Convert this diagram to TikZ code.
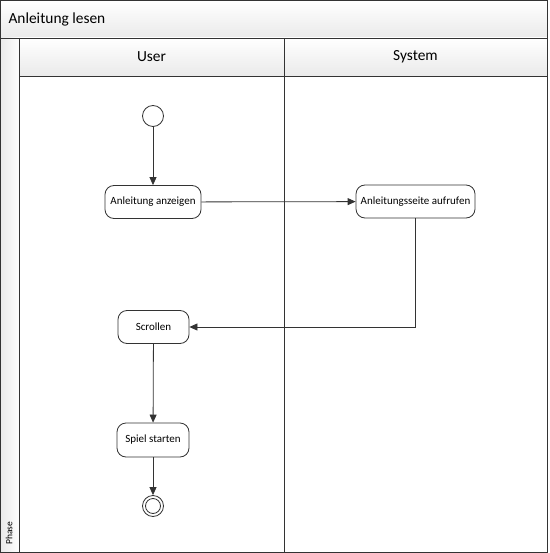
\documentclass[tikz,border=0pt]{standalone}
\usepackage{fontspec}
\setmainfont{Carlito}
\usetikzlibrary{arrows.meta,positioning}
\definecolor{ln}{HTML}{333333}
\definecolor{hdtop}{HTML}{FFFFFF}
\definecolor{hdbot}{HTML}{EAEAEA}
\tikzset{
  act/.style={draw=ln,line width=0.8pt,rounded corners=9pt,fill=white,font=\fontsize{11}{13}\selectfont,inner sep=0pt},
  flow/.style={draw=ln,line width=0.8pt,-{Triangle[length=8pt,width=7pt]}},
  frame/.style={draw=ln,line width=0.9pt},
  hdr/.style={top color=hdtop,bottom color=hdbot,draw=ln,line width=0.9pt},
}
\begin{document}
\begin{tikzpicture}[x=1pt,y=-1pt]
\useasboundingbox (0,0) rectangle (549,553);
% title band
\path[hdr] (0.5,0.5) rectangle (547.5,38);
\node[anchor=west,font=\fontsize{15.4}{18}\selectfont] (title) at (5,19) {Anleitung lesen};
% phase column
\path[left color=hdbot,right color=hdtop,draw=ln,line width=0.9pt] (0.5,38) rectangle (19.5,552);
\node[rotate=90,anchor=west,font=\fontsize{9.5}{11}\selectfont] (phase) at (9,548) {Phase};
% lane headers
\path[hdr] (19.5,38) rectangle (284,76);
\path[hdr] (284,38) rectangle (547.5,76);
\node[font=\fontsize{15.4}{18}\selectfont] (user) at (151.5,57) {User};
\node[font=\fontsize{15.4}{18}\selectfont] (system) at (415.5,57) {System};
% lane bodies
\draw[frame] (19.5,76) rectangle (284,552);
\draw[frame] (284,76) rectangle (547.5,552);
\draw[frame] (0.5,0.5) rectangle (547.5,552);
% nodes
\node[circle,draw=ln,line width=0.8pt,fill=white,minimum size=21pt,inner sep=0pt] (start) at (153,116) {};
\node[act,minimum width=96pt,minimum height=33pt] (anz) at (153,202) {Anleitung anzeigen};
\node[act,minimum width=119pt,minimum height=33pt] (auf) at (415.5,201.5) {Anleitungsseite aufrufen};
\node[act,minimum width=71pt,minimum height=33pt] (scr) at (153.5,327) {Scrollen};
\node[act,minimum width=72pt,minimum height=34pt] (spiel) at (153,440) {Spiel starten};
\node[circle,draw=ln,line width=0.8pt,fill=white,minimum size=21pt,inner sep=0pt] (end) at (153,506) {};
\node[circle,draw=ln,line width=0.8pt,minimum size=15pt,inner sep=0pt] (endin) at (end) {};
% flows
\draw[flow] (start) -- (anz);
\draw[flow] (anz) -- (auf);
\draw[flow] (auf.south) |- (scr.east);
\draw[flow] (scr) -- (spiel);
\draw[flow] (spiel) -- (end);
\end{tikzpicture}
\end{document}
